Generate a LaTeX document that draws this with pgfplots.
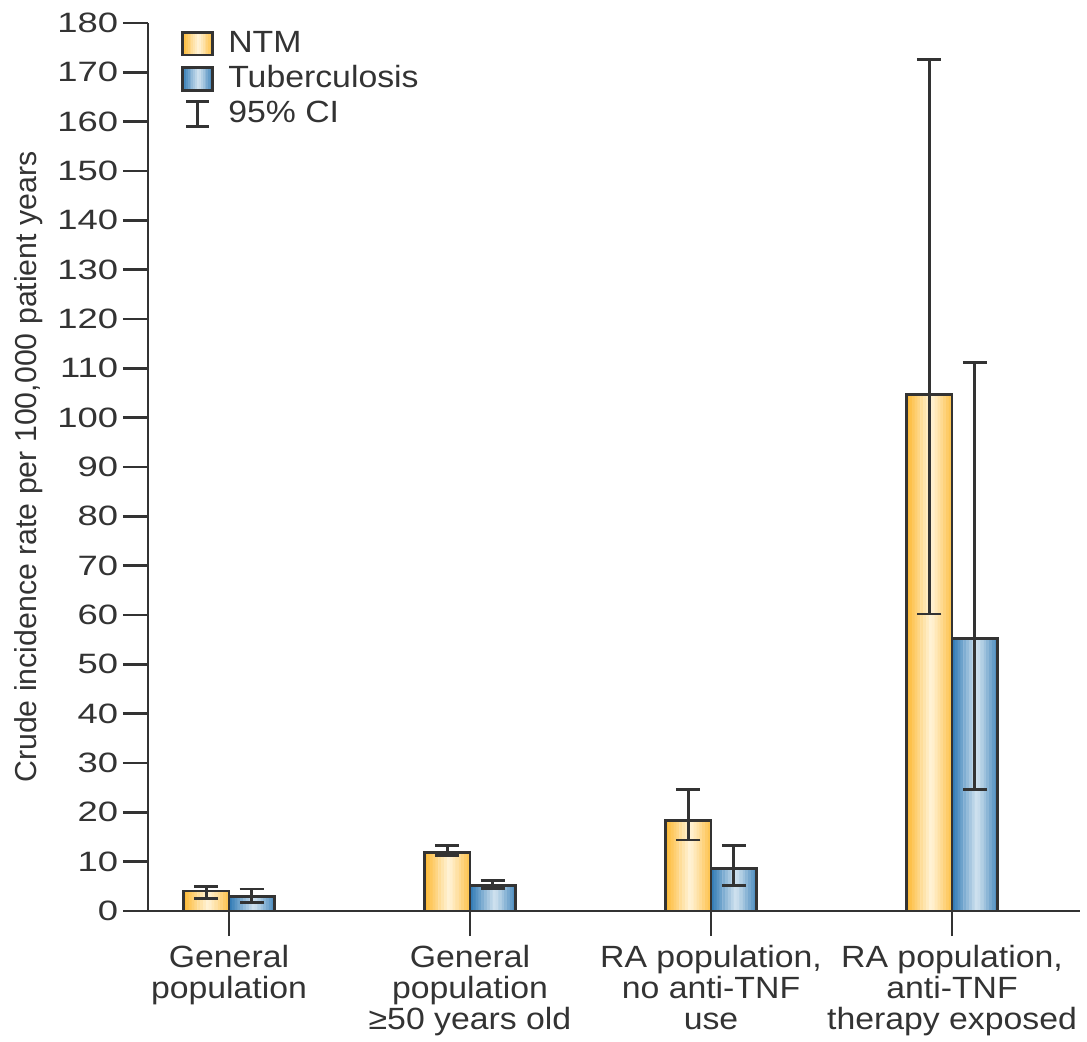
\documentclass[border=0pt]{standalone}
\usepackage{pgfplots}
\usepackage{pgfplotstable}
\pgfplotsset{compat=1.18}
\usepackage{fontspec}
\setmainfont{Liberation Sans}
\newfontfamily\tickfont[FakeStretch=1.3]{Liberation Sans}
\newfontfamily\lblfont[FakeStretch=1.1]{Liberation Sans}
\definecolor{NTMdark}{HTML}{FDB72C}
\definecolor{NTMlight}{HTML}{FFF4DA}
\definecolor{TBdark}{HTML}{2A76B2}
\definecolor{TBlight}{HTML}{D3E4F0}
\definecolor{ink}{HTML}{333333}
% stripe colours for the horizontal gradient of the bars
\foreach \i in {0,...,15}{%
  \pgfmathsetmacro\f{100*max(0,1-abs((\i+0.5)/16-0.55)/0.55)}%
  \xglobal\colorlet{ntm\i}{NTMlight!\f!NTMdark}%
  \xglobal\colorlet{tb\i}{TBlight!\f!TBdark}%
}
\pgfplotstableread{
x y ep em
0 4.05 1.0 1.6
1 11.8 1.4 0.6
2 18.4 6.3 4.0
3 104.7 67.9 44.5
}\ntm
\pgfplotstableread{
x y ep em
0 3.0 1.45 1.2
1 5.1 1.0 0.5
2 8.7 4.5 3.6
3 55.2 56.0 30.5
}\tb
\pgfplotsset{
  ntmlegend/.style={legend image code/.code={
    \foreach \i in {0,...,15}{\fill[ntm\i] ({\i*10.5pt/16},-4pt) rectangle ++(0.8pt,8pt);}
    \draw[ink, line width=1pt] (0pt,-4pt) rectangle (10.5pt,4pt);}},
  tblegend/.style={legend image code/.code={
    \foreach \i in {0,...,15}{\fill[tb\i] ({\i*10.5pt/16},-4pt) rectangle ++(0.8pt,8pt);}
    \draw[ink, line width=1pt] (0pt,-4pt) rectangle (10.5pt,4pt);}},
  cilegend/.style={legend image code/.code={
    \draw[ink, line width=1pt] (5.25pt,-4.5pt) -- (5.25pt,4.5pt);
    \draw[ink, line width=1pt] (1.2pt,-4.5pt) -- (9.3pt,-4.5pt);
    \draw[ink, line width=1pt] (1.2pt,4.5pt) -- (9.3pt,4.5pt);}},
  myerr/.style={draw=none, mark=none, forget plot,
    error bars/.cd, y dir=both, y explicit,
    error bar style={line width=1pt, draw=ink, solid},
    error mark options={rotate=90, mark size=4.25pt, line width=1pt, draw=ink}},
}
\begin{document}
\begin{tikzpicture}
\begin{axis}[
  name=ax,
  scale only axis,
  width=326.2pt, height=310.8pt,
  xmin=-0.336, xmax=3.531,
  ymin=0, ymax=180,
  ytick={0,10,...,180},
  xtick={0,1,2,3},
  xticklabels={{General\\population},{General\\population\\≥50 years old},{RA population,\\no anti-TNF\\use},{RA population,\\anti-TNF\\therapy exposed}},
  axis x line=bottom, axis y line=left,
  axis line style={-, line width=1pt, ink},
  tick align=outside,
  major tick length=8.75pt,
  tick style={line width=1pt, ink},
  /pgf/number format/assume math mode=true,
  yticklabel style={font=\tickfont\fontsize{9.8}{10}\selectfont, text=ink, inner sep=1.5pt},
  xticklabel style={font=\lblfont\fontsize{10.75}{10.9}\selectfont, align=center, text=ink, inner sep=2pt, yshift=-1pt},
  ylabel={Crude incidence rate per 100,000 patient years},
  ylabel style={font=\fontsize{10.6}{11}\selectfont, text=ink},
  legend style={at={(0.035,0.995)}, anchor=north west, draw=none, fill=none,
    font=\lblfont\fontsize{10.75}{11}\selectfont, text=ink, row sep=1.2pt, column sep=4pt,
    inner sep=0pt, nodes={inner sep=1pt}},
  legend cell align=left,
  clip=false,
]
% gradient stripes of the NTM bars (left of each category) and TB bars (right)
\pgfplotsinvokeforeach{0,...,15}{
  \addplot[ybar, bar width=0.0135, bar shift=0pt, fill=ntm#1, draw=none, forget plot]
    table[x expr=\thisrow{x}-0.19+(#1+0.5)*0.011875, y=y]{\ntm};
  \addplot[ybar, bar width=0.0135, bar shift=0pt, fill=tb#1, draw=none, forget plot]
    table[x expr=\thisrow{x}+(#1+0.5)*0.011875, y=y]{\tb};
}
% bar outlines
\addplot[ybar, bar width=0.19, bar shift=0pt, fill=none, draw=ink, line width=1pt, forget plot]
  table[x expr=\thisrow{x}-0.095, y=y]{\ntm};
\addplot[ybar, bar width=0.19, bar shift=0pt, fill=none, draw=ink, line width=1pt, forget plot]
  table[x expr=\thisrow{x}+0.095, y=y]{\tb};
% 95% CI
\addplot[myerr] table[x expr=\thisrow{x}-0.095, y=y, y error plus=ep, y error minus=em]{\ntm};
\addplot[myerr] table[x expr=\thisrow{x}+0.095, y=y, y error plus=ep, y error minus=em]{\tb};
\addlegendimage{ntmlegend}
\addlegendentry{NTM}
\addlegendimage{tblegend}
\addlegendentry{Tuberculosis}
\addlegendimage{cilegend}
\addlegendentry{95\% CI}
\end{axis}
\path (ax.south west) ++(-51.8pt,-44.45pt) rectangle ++(380.45pt,363.3pt);
\end{tikzpicture}
\end{document}
